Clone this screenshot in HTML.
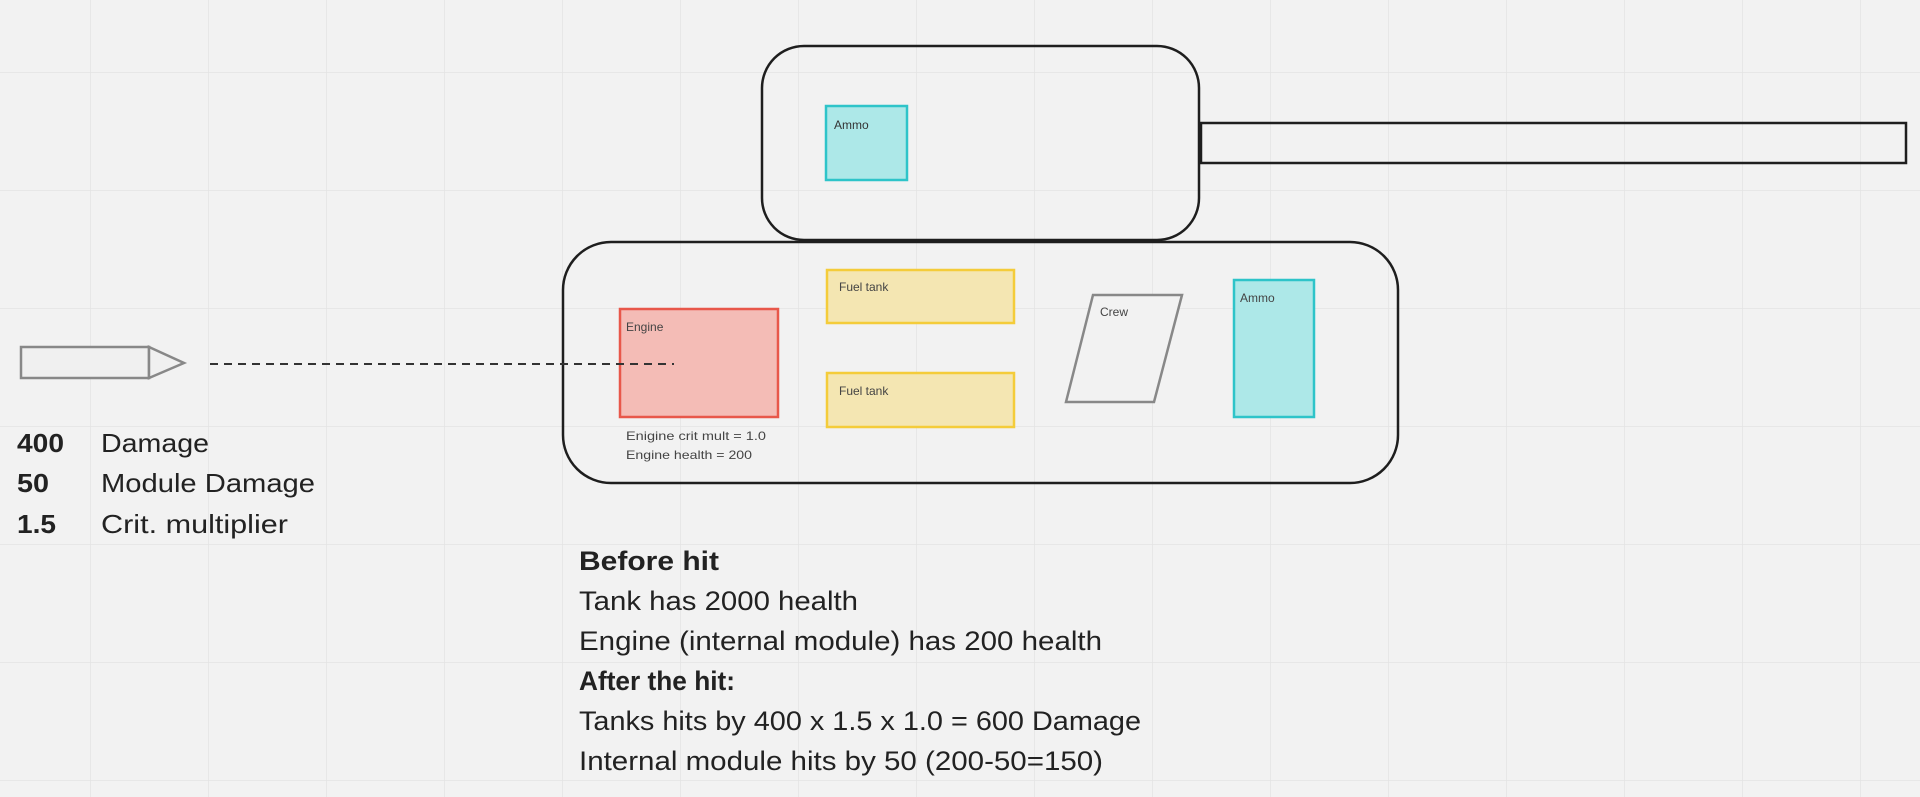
<!DOCTYPE html>
<html><head><meta charset="utf-8"><style>
html,body{margin:0;padding:0;background:#f2f2f2;}
svg{display:block;}
text{font-family:"Liberation Sans",sans-serif;}
</style></head><body>
<svg width="1920" height="797" viewBox="0 0 1920 797" xmlns="http://www.w3.org/2000/svg">
<defs>
<pattern id="g" x="90" y="72" width="118" height="118" patternUnits="userSpaceOnUse">
<path d="M0 0V118M0 0H118" stroke="#e3e3e3" stroke-width="1.5" fill="none"/>
</pattern>
</defs>
<rect width="1920" height="797" fill="#f2f2f2"/>
<rect width="1920" height="797" fill="url(#g)"/>

<!-- turret -->
<rect x="762" y="46" width="437" height="194" rx="42" fill="none" stroke="#1e1e1e" stroke-width="2.5"/>
<rect x="1201" y="123" width="705" height="40" fill="none" stroke="#1e1e1e" stroke-width="2.5"/>
<rect x="826" y="106" width="81" height="74" fill="#ade8e8" stroke="#2ec4c9" stroke-width="2.5"/>
<text x="834" y="129" font-size="12" fill="#333">Ammo</text>

<!-- hull -->
<rect x="563" y="242" width="835" height="241" rx="48" fill="none" stroke="#1e1e1e" stroke-width="2.5"/>
<rect x="620" y="309" width="158" height="108" fill="#f4bcb6" stroke="#e8574a" stroke-width="2.5"/>
<text x="626" y="331" font-size="12" fill="#444">Engine</text>
<text x="626" y="440" font-size="12" fill="#444" textLength="140" lengthAdjust="spacingAndGlyphs">Enigine crit mult = 1.0</text>
<text x="626" y="459" font-size="12" fill="#444" textLength="126" lengthAdjust="spacingAndGlyphs">Engine health = 200</text>

<rect x="827" y="270" width="187" height="53" fill="#f4e6b2" stroke="#f4cc3a" stroke-width="2.5"/>
<text x="839" y="291" font-size="12" fill="#444">Fuel tank</text>
<rect x="827" y="373" width="187" height="54" fill="#f4e6b2" stroke="#f4cc3a" stroke-width="2.5"/>
<text x="839" y="395" font-size="12" fill="#444">Fuel tank</text>

<polygon points="1093,295 1182,295 1154,402 1066,402" fill="#f2f2f2" stroke="#888" stroke-width="2.5"/>
<text x="1100" y="316" font-size="12" fill="#444">Crew</text>

<rect x="1234" y="280" width="80" height="137" fill="#ade8e8" stroke="#2ec4c9" stroke-width="2.5"/>
<text x="1240" y="302" font-size="12" fill="#444">Ammo</text>

<!-- shell -->
<rect x="21" y="347" width="128" height="31" fill="#f0f0f0" stroke="#888" stroke-width="2.5"/>
<polygon points="149,347 184,363 149,378" fill="#f0f0f0" stroke="#888" stroke-width="2.5"/>
<line x1="210" y1="364" x2="674" y2="364" stroke="#333" stroke-width="2" stroke-dasharray="8,6"/>

<!-- left text -->
<g font-size="26" fill="#222" lengthAdjust="spacingAndGlyphs">
<text x="17" y="452" font-weight="bold" textLength="47" lengthAdjust="spacingAndGlyphs">400</text><text x="101" y="452" textLength="108" lengthAdjust="spacingAndGlyphs">Damage</text>
<text x="17" y="492" font-weight="bold" textLength="32" lengthAdjust="spacingAndGlyphs">50</text><text x="101" y="492" textLength="214" lengthAdjust="spacingAndGlyphs">Module Damage</text>
<text x="17" y="533" font-weight="bold" textLength="39" lengthAdjust="spacingAndGlyphs">1.5</text><text x="101" y="533" textLength="187" lengthAdjust="spacingAndGlyphs">Crit. multiplier</text>
</g>

<!-- bottom text -->
<g font-size="27" fill="#222">
<text x="579" y="570" font-weight="bold" textLength="140" lengthAdjust="spacingAndGlyphs">Before hit</text>
<text x="579" y="610" textLength="279" lengthAdjust="spacingAndGlyphs">Tank has 2000 health</text>
<text x="579" y="650" textLength="523" lengthAdjust="spacingAndGlyphs">Engine (internal module) has 200 health</text>
<text x="579" y="690" font-weight="bold" textLength="156" lengthAdjust="spacingAndGlyphs">After the hit:</text>
<text x="579" y="730" textLength="562" lengthAdjust="spacingAndGlyphs">Tanks hits by 400 x 1.5 x 1.0 = 600 Damage</text>
<text x="579" y="770" textLength="524" lengthAdjust="spacingAndGlyphs">Internal module hits by 50 (200-50=150)</text>
</g>
</svg>
</body></html>
